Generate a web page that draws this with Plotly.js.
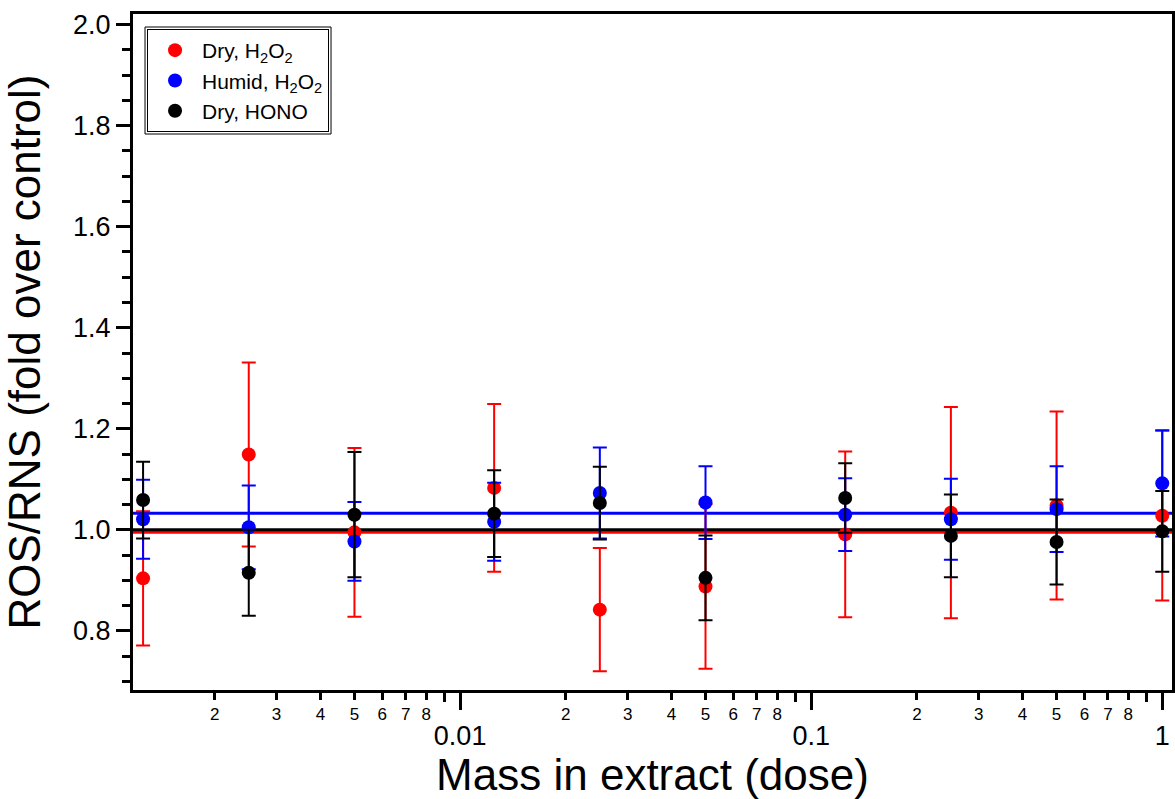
<!DOCTYPE html>
<html>
<head>
<meta charset="utf-8">
<script src="https://cdn.plot.ly/plotly-3.0.1.min.js"></script>
<style>
  html, body { margin: 0; padding: 0; background: #ffffff; }
  #chart { width: 1175px; height: 799px; }
</style>
</head>
<body>
<div id="chart"></div>
<script>
// ---- data ----
const doses = [0.00125, 0.0025, 0.005, 0.0125, 0.025, 0.05, 0.125, 0.25, 0.5, 1];

const dryH2O2      = [0.904, 1.149, 0.995, 1.083, 0.842, 0.888, 0.991, 1.034, 1.048, 1.028];
const dryH2O2Err   = [0.133, 0.182, 0.167, 0.166, 0.122, 0.163, 0.164, 0.209, 0.186, 0.168];

const humidH2O2    = [1.021, 1.005, 0.977, 1.016, 1.073, 1.054, 1.030, 1.021, 1.041, 1.092];
const humidH2O2Err = [0.078, 0.083, 0.078, 0.077, 0.090, 0.072, 0.072, 0.080, 0.085, 0.105];

const dryHONO      = [1.059, 0.915, 1.030, 1.032, 1.053, 0.905, 1.063, 0.988, 0.976, 0.997];
const dryHONOErr   = [0.076, 0.085, 0.124, 0.086, 0.072, 0.084, 0.069, 0.082, 0.084, 0.080];

const seriesNames  = ['Dry, H<sub>2</sub>O<sub>2</sub>', 'Humid, H<sub>2</sub>O<sub>2</sub>', 'Dry, HONO'];
const seriesColors = ['#ff0000', '#0000ff', '#000000'];
const meanLevels   = [0.995, 1.033, 1.000];   // horizontal mean lines (red, blue, black)

const majorTickVals = [0.01, 0.1, 1];
const majorTickText = ['0.01', '0.1', '1'];
const minorTickVals = [0.002,0.003,0.004,0.005,0.006,0.007,0.008,
                       0.02,0.03,0.04,0.05,0.06,0.07,0.08,
                       0.2,0.3,0.4,0.5,0.6,0.7,0.8];
const minorTickText = ['2','3','4','5','6','7','8',
                       '2','3','4','5','6','7','8',
                       '2','3','4','5','6','7','8'];
const unlabeledTickVals = [0.009, 0.09, 0.9];

// ---- traces ----
const ys   = [dryH2O2, humidH2O2, dryHONO];
const errs = [dryH2O2Err, humidH2O2Err, dryHONOErr];

const traces = ys.map((y, i) => ({
  type: 'scatter',
  mode: 'markers',
  x: doses,
  y: y,
  name: seriesNames[i],
  marker: { color: seriesColors[i], size: 14 },
  error_y: { type: 'data', array: errs[i], visible: true,
             color: seriesColors[i], thickness: 2, width: 7 },
  cliponaxis: false
}));

// dummy trace to register the overlaid minor-label axis
traces.push({ type: 'scatter', mode: 'none', x: [], y: [], xaxis: 'x2',
              showlegend: false, hoverinfo: 'skip' });

const shapes = meanLevels.map((v, i) => ({
  type: 'line', xref: 'paper', x0: 0, x1: 1, yref: 'y', y0: v, y1: v,
  line: { color: seriesColors[i], width: 3 }, layer: 'below'
}));

const FONT = 'Liberation Sans, Arial, sans-serif';
const xRange = [Math.log10(0.00117), Math.log10(1.066)];
const M = { l: 133, r: 3, t: 14, b: 109 };

const layout = {
  width: 1175, height: 799,
  margin: M,
  paper_bgcolor: '#ffffff', plot_bgcolor: '#ffffff',
  font: { family: FONT, color: '#000000' },
  showlegend: true,
  legend: {
    x: 0.0135, y: 0.9778, xanchor: 'left', yanchor: 'top',
    bgcolor: '#ffffff', bordercolor: '#000000', borderwidth: 1,
    font: { family: FONT, size: 21, color: '#000000' },
    itemwidth: 44,
    tracegroupgap: 0
  },
  xaxis: {
    type: 'log', range: xRange,
    tickmode: 'array', tickvals: majorTickVals, ticktext: majorTickText,
    ticks: 'outside', ticklen: 17, tickwidth: 3, tickcolor: '#000000',
    minor: { tickmode: 'array', tickvals: unlabeledTickVals, ticks: 'outside',
             ticklen: 9, tickwidth: 3, tickcolor: '#000000', showgrid: false },
    tickfont: { family: FONT, size: 27, color: '#000000' },
    ticklabelstandoff: 3,
    showline: true, linewidth: 3, linecolor: '#000000', mirror: true,
    showgrid: false, zeroline: false,
    title: { text: 'Mass in extract (dose)', font: { family: FONT, size: 44, color: '#000000' }, standoff: 0 }
  },
  xaxis2: {
    type: 'log', range: xRange, overlaying: 'x', anchor: 'y', side: 'bottom',
    tickmode: 'array', tickvals: minorTickVals, ticktext: minorTickText,
    ticks: 'outside', ticklen: 9, tickwidth: 3, tickcolor: '#000000',
    tickfont: { family: FONT, size: 17, color: '#000000' },
    showline: false, showgrid: false, zeroline: false
  },
  yaxis: {
    range: [0.683, 2.021],
    tickmode: 'linear', tick0: 0, dtick: 0.2, tickformat: '.1f',
    ticks: 'outside', ticklen: 14, tickwidth: 3, tickcolor: '#000000',
    minor: { dtick: 0.05, tick0: 0, ticks: 'outside', ticklen: 8, tickwidth: 3, tickcolor: '#000000', showgrid: false },
    tickfont: { family: FONT, size: 27, color: '#000000' },
    showline: true, linewidth: 3, linecolor: '#000000', mirror: true,
    showgrid: false, zeroline: false,
    title: { text: 'ROS/RNS (fold over control)', font: { family: FONT, size: 44, color: '#000000' }, standoff: 20 }
  },
  shapes: shapes
};

Plotly.newPlot('chart', traces, layout, { displayModeBar: false, staticPlot: true }).then(gd => {
  // outer line of the double legend frame, placed from the rendered legend box
  const bg = gd.querySelector('.legend rect.bg');
  const svg = gd.querySelector('svg.main-svg');
  if (!bg || !svg) return;
  const r = bg.getBoundingClientRect();
  const s = svg.getBoundingClientRect();
  const pw = 1175 - M.l - M.r, ph = 799 - M.t - M.b;
  const gap = 2.5;
  const x0 = (r.left - s.left - gap - M.l) / pw;
  const x1 = (r.right - s.left + gap - M.l) / pw;
  const y0 = 1 - (r.top - s.top - gap - M.t) / ph;
  const y1 = 1 - (r.bottom - s.top + gap - M.t) / ph;
  const frame = { type: 'rect', xref: 'paper', yref: 'paper', x0: x0, x1: x1, y0: y0, y1: y1,
                  line: { color: '#000000', width: 1 }, fillcolor: 'rgba(0,0,0,0)', layer: 'above' };
  return Plotly.relayout(gd, { shapes: shapes.concat([frame]) });
});
</script>
</body>
</html>
